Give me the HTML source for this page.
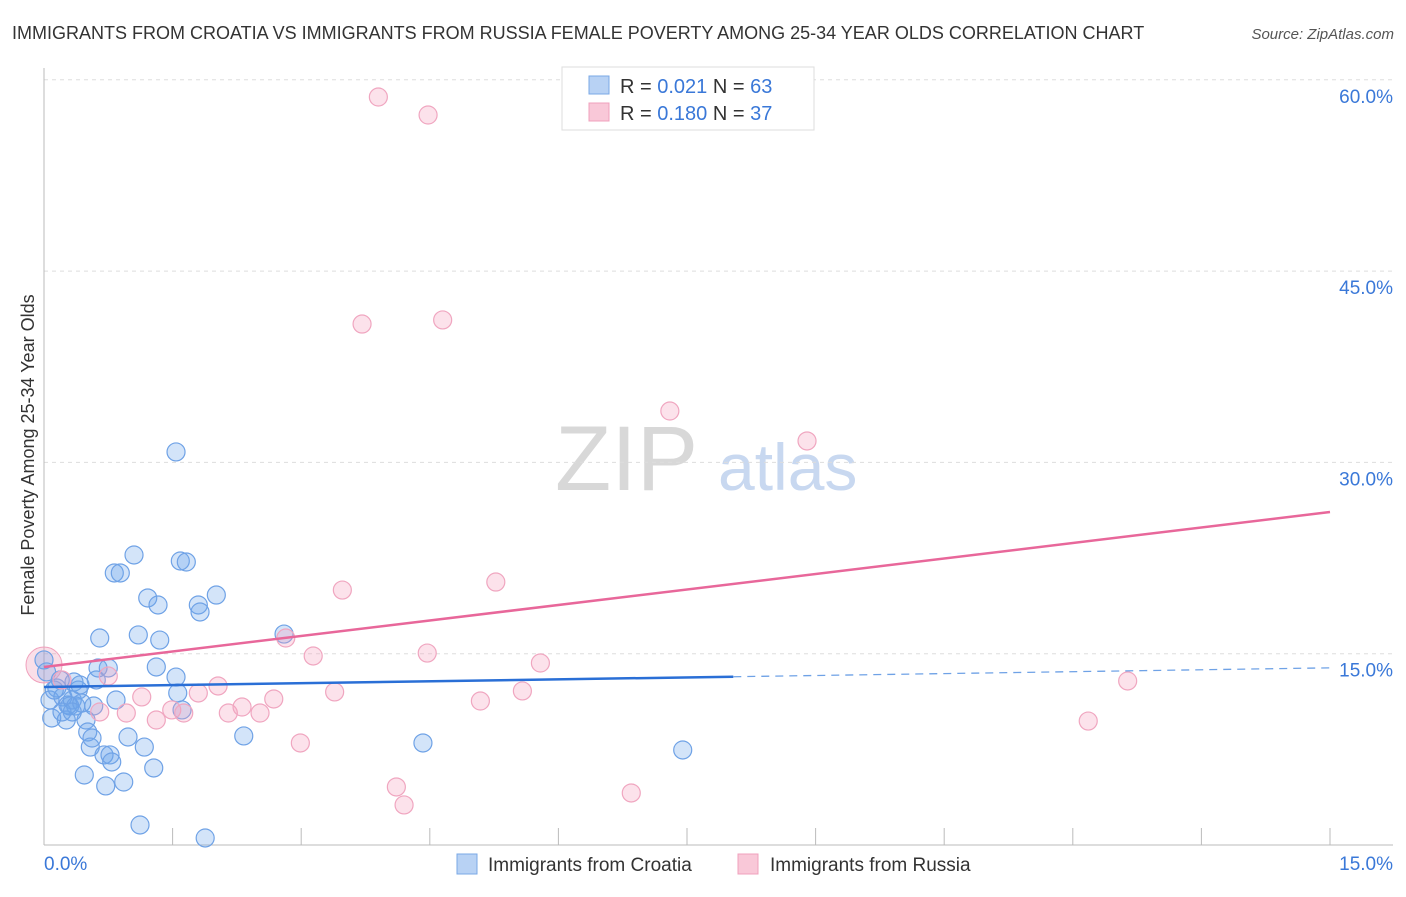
<!DOCTYPE html>
<html><head><meta charset="utf-8"><style>
body{margin:0;background:#fff;font-family:"Liberation Sans",sans-serif}
svg text{font-family:"Liberation Sans",sans-serif}
</style></head><body>
<svg id="c" width="1406" height="892">
<text x="12" y="39" font-size="18" fill="#333">IMMIGRANTS FROM CROATIA VS IMMIGRANTS FROM RUSSIA FEMALE POVERTY AMONG 25-34 YEAR OLDS CORRELATION CHART</text>
<text x="1394" y="39" font-size="15" fill="#555" font-style="italic" text-anchor="end">Source: ZipAtlas.com</text>
<text x="555" y="490" font-size="92" fill="#d8d8d8" font-family="Liberation Serif">ZIP</text>
<text x="718" y="490" font-size="66" fill="#c8d8f0">atlas</text>
<text transform="translate(34,455) rotate(-90)" font-size="18" fill="#333" text-anchor="middle">Female Poverty Among 25-34 Year Olds</text>
<g id="grid"></g><g id="pts"></g><g id="lines"></g>
<g>
<rect x="562" y="67" width="252" height="63" fill="#fff" stroke="#ddd"/>
<rect x="589" y="76" width="20" height="18" fill="#b8d2f4" stroke="#7aa8e6"/>
<text x="620" y="93" font-size="20" fill="#333">R = <tspan fill="#3a78d8">0.021</tspan>   N = <tspan fill="#3a78d8">63</tspan></text>
<rect x="589" y="103" width="20" height="18" fill="#f9c8d8" stroke="#f0a0bc"/>
<text x="620" y="120" font-size="20" fill="#333">R = <tspan fill="#3a78d8">0.180</tspan>   N = <tspan fill="#3a78d8">37</tspan></text>
</g>
<g>
<rect x="457" y="854" width="20" height="20" fill="#b8d2f4" stroke="#7aa8e6"/>
<text x="488" y="871" font-size="19" fill="#333">Immigrants from Croatia</text>
<rect x="738" y="854" width="20" height="20" fill="#f9c8d8" stroke="#f0a0bc"/>
<text x="770" y="871" font-size="19" fill="#333">Immigrants from Russia</text>
</g>
</svg>
<script>
const yTicks=[15,30,45,60];
const yTickLabels=["15.0%","30.0%","45.0%","60.0%"];
const xTicks=[0,1.5,3,4.5,6,7.5,9,10.5,12,13.5,15];
const croatiaX=[0,0.03,0.07,0.09,0.15,0.19,0.22,0.26,0.28,0.30,0.33,0.35,0.37,0.40,0.42,0.44,0.47,0.49,0.51,0.54,0.56,0.58,0.61,0.63,0.65,0.70,0.72,0.75,0.77,0.79,0.82,0.84,0.89,0.93,0.98,1.05,1.10,1.12,1.17,1.21,1.28,1.31,1.33,1.35,1.54,1.56,1.59,1.61,1.66,1.54,1.80,1.82,1.88,2.01,2.33,2.80,4.42,7.45,0.21,0.33,0.12];
const croatiaY=[14.51,13.57,11.37,9.96,12.31,12.94,11.61,9.80,10.98,10.90,11.37,12.78,10.90,12.15,12.55,11.13,5.49,9.80,8.86,7.68,8.39,10.90,12.94,13.88,16.23,7.06,4.63,13.88,7.06,6.51,21.33,11.37,21.33,4.94,8.47,22.74,16.47,1.57,7.68,19.37,6.04,13.96,18.82,16.07,13.17,11.92,22.27,10.59,22.19,30.82,18.82,18.27,0.55,19.60,8.55,16.54,8.00,7.45,10.43,10.43,12.15];
const russiaX=[0.21,0.65,0.75,0.96,1.14,1.31,1.49,1.63,1.80,2.03,2.15,2.31,2.52,2.68,2.82,2.99,3.14,3.39,3.48,3.71,3.90,4.11,4.20,4.47,4.48,4.65,5.09,5.27,5.58,5.79,6.85,7.30,8.90,12.18,12.64];
const russiaY=[12.94,10.43,13.25,10.35,11.61,9.80,10.59,10.35,11.92,12.47,10.35,10.82,10.35,11.45,16.23,8.00,14.82,12.00,19.99,40.85,58.65,4.55,3.14,15.05,57.24,41.17,11.29,20.62,12.08,14.27,4.08,34.03,31.68,9.72,12.86];
const croatiaFit=[12.39,0.1];   // intercept, slope
const russiaFit=[13.96,0.81];
const croatiaSolidEnd=8.04;
const NS="http://www.w3.org/2000/svg";
const X=v=>44+v*1286/15, Y=v=>845-v*191.3/15;
function mk(p,t,a){const e=document.createElementNS(NS,t);for(const k in a)e.setAttribute(k,a[k]);p.appendChild(e);return e;}
const grid=document.getElementById('grid'),pts=document.getElementById('pts'),lines=document.getElementById('lines');
yTicks.forEach((t,i)=>{
 const g=mk(grid,'line',{x1:44,x2:1393,y1:Y(t),y2:Y(t),stroke:'#ddd','stroke-dasharray':'4,4'});
 
 
 const l=mk(grid,'text',{x:1393,y:Y(t)+23,'font-size':19,fill:'#3a78d8','text-anchor':'end'});
 l.textContent=yTickLabels[i];
 
 
});
mk(grid,'line',{x1:44,x2:1393,y1:845,y2:845,stroke:'#bbb'});
mk(grid,'line',{x1:44,x2:44,y1:68,y2:845,stroke:'#bbb'});
xTicks.forEach(t=>{const e=mk(grid,'line',{x1:X(t),x2:X(t),y1:828,y2:845,stroke:'#bbb'});
 
 });
const x0=mk(grid,'text',{x:44,y:870,'font-size':19,fill:'#3a78d8'});x0.textContent='0.0%';


const x1=mk(grid,'text',{x:1393,y:870,'font-size':19,fill:'#3a78d8','text-anchor':'end'});x1.textContent='15.0%';


const big=mk(pts,'circle',{cx:X(0),cy:Y(14.11),r:18,fill:'rgba(240,150,180,0.3)',stroke:'#f0a0bc'});


croatiaX.forEach((v,i)=>{const c=mk(pts,'circle',{cx:X(v),cy:Y(croatiaY[i]),r:9,fill:'rgba(110,165,235,0.3)',stroke:'#6fa2e6','stroke-width':1.2});
 
 });
russiaX.forEach((v,i)=>{const c=mk(pts,'circle',{cx:X(v),cy:Y(russiaY[i]),r:9,fill:'rgba(245,160,190,0.3)',stroke:'#f0a6c0','stroke-width':1.2});
 
 });
const f=(fit,x)=>fit[0]+fit[1]*x;
const b1=mk(lines,'line',{x1:X(0),y1:Y(f(croatiaFit,0)),x2:X(croatiaSolidEnd),y2:Y(f(croatiaFit,croatiaSolidEnd)),stroke:'#2a6fd6','stroke-width':2.5});


const b2=mk(lines,'line',{x1:X(croatiaSolidEnd),y1:Y(f(croatiaFit,croatiaSolidEnd)),x2:X(15),y2:Y(f(croatiaFit,15)),stroke:'#6fa2e6','stroke-width':1.3,'stroke-dasharray':'8,6'});


const r1=mk(lines,'line',{x1:X(0),y1:Y(f(russiaFit,0)),x2:X(15),y2:Y(f(russiaFit,15)),stroke:'#e8679a','stroke-width':2.5});


</script>
</body></html>
